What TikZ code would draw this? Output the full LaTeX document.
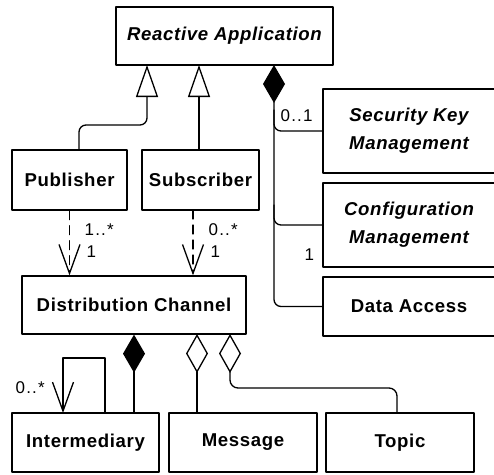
\documentclass[tikz,border=0pt]{standalone}
\usepackage{fontspec}
\usepackage{tikz}
\usetikzlibrary{arrows.meta}
\usetikzlibrary{positioning}
\newfontfamily\umlsans[LetterSpace=3.5]{Liberation Sans}
\newfontfamily\umlmult[LetterSpace=7]{Liberation Sans}
\tikzset{
  umlclass/.style={draw,line width=1.3pt,inner sep=0pt,align=center,
    font=\umlsans\bfseries\fontsize{18.6}{28}\selectfont},
  multlabel/.style={inner sep=0pt,anchor=west,font=\umlmult\fontsize{17}{20}\selectfont},
  inherit/.style={{Triangle[open,length=32pt,width=22pt]}-},
  compose/.style={{Diamond[length=38pt,width=22pt]}-},
  aggregate/.style={{Diamond[open,length=39pt,width=22pt]}-},
  navigate/.style={-{Straight Barb[length=29pt,width=21pt]}},
  dependency/.style={dash pattern=on 9pt off 6pt}
}

\begin{document}
\begin{tikzpicture}[line cap=round,line join=round,line width=1.3pt,x=1pt,y=-1pt]
\useasboundingbox (0,0) rectangle (494,474);
% classes
\node[umlclass,minimum width=217pt,minimum height=58pt] (app) at (224.5,36) {\itshape Reactive Application};
\node[umlclass,minimum width=115pt,minimum height=60pt] (pub) at (69.5,180) {Publisher};
\node[umlclass,minimum width=117pt,minimum height=60pt] (sub) at (200.5,180) {Subscriber};
\node[umlclass,minimum width=172pt,minimum height=84pt] (skm) at (409,131) {\itshape Security Key\\\itshape Management};
\node[umlclass,minimum width=172pt,minimum height=84pt] (cfg) at (409,225) {\itshape Configuration\\\itshape Management};
\node[umlclass,minimum width=172pt,minimum height=59pt] (data) at (409,306.5) {Data Access};
\node[umlclass,minimum width=224pt,minimum height=58pt] (dc) at (134,305) {Distribution Channel};
\node[umlclass,minimum width=147pt,minimum height=59pt] (int) at (85.5,442.5) {Intermediary};
\node[umlclass,minimum width=148pt,minimum height=59pt] (msg) at (243,442.5) {Message};
\node[umlclass,minimum width=148pt,minimum height=59pt] (topic) at (400,442.5) {Topic};

% attachment points
\coordinate (app-pub) at (147,65);
\coordinate (app-sub) at (199,65);
\coordinate (app-part) at (274,65);
\coordinate (tap-skm) at (274,110);
\coordinate (tap-cfg) at (274,205);
\coordinate (sub-out) at (193,210);
\coordinate (dc-msg) at (197,334);
\coordinate (dc-topic) at (230,334);
\coordinate (int-out) at (105,413);
\coordinate (int-in) at (63,413);

% generalization
\draw[inherit,rounded corners=7pt] (app-pub) -- (147,125) -| ([xshift=9.5pt]pub.north);
\draw[inherit] (app-sub) -- (app-sub |- sub.north);

% composition of the application
\draw[compose,rounded corners=7pt] (app-part) |- (data.west);
\draw[rounded corners=7pt] (tap-skm) |- (skm.west);
\draw[rounded corners=7pt] (tap-cfg) |- (cfg.west);
\node[multlabel] (m-skm) at (280,116) {0..1};
\node[multlabel] (m-cfg) at (304,255) {1};

% usage of the channel
\draw[navigate,dependency] (pub.south) -- (pub.south |- dc.north);
\draw[navigate,dependency] (sub-out) -- (sub-out |- dc.north);
\node[multlabel] (m-pub) at (84,230) {1..*};
\node[multlabel] (m-pub1) at (86,252) {1};
\node[multlabel] (m-sub) at (208,230) {0..*};
\node[multlabel] (m-sub1) at (210,252) {1};

% parts of the channel
\draw[compose] (dc.south) -- (dc.south |- int.north);
\draw[aggregate] (dc-msg) -- (dc-msg |- msg.north);
\draw[aggregate,rounded corners=8pt] (dc-topic) -- (230,388) -| ([xshift=-3pt]topic.north);
\draw[navigate] (int-out) -- (105,358) -| (int-in);
\node[multlabel] (m-int) at (15,388) {0..*};
%\draw (int.north west) -- (int.north east);
\end{tikzpicture}
\end{document}
